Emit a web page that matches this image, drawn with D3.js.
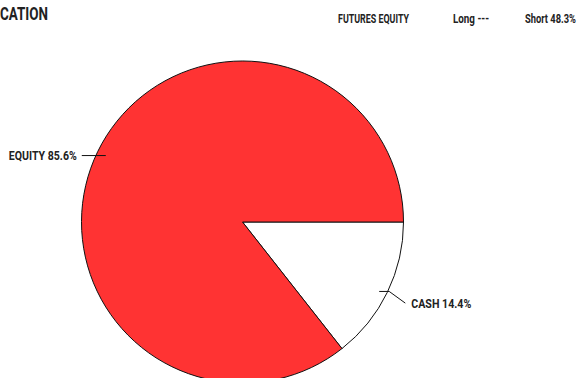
<!DOCTYPE html>
<html>
<head>
<meta charset="utf-8">
<script src="https://cdn.jsdelivr.net/npm/d3@7"></script>
<style>
  body { margin: 0; background: #fff; }
  text { font-family: "Roboto", "DejaVu Sans Condensed", sans-serif; font-weight: bold; fill: #222; }
</style>
</head>
<body>
<script>
const width = 581;
const height = 378;

// data
const categories = ["CASH", "EQUITY"];
const values = [14.4, 85.6];
const futuresLabels = ["FUTURES EQUITY", "Long ---", "Short 48.3%"];

const cx = 242.5, cy = 222, radius = 161;

let svg = d3.select("body")
    .append("svg")
    .attr("width", width)
    .attr("height", height);

// condensed look: squeeze text to measured widths
function squeeze(sel, w) {
    sel.attr("textLength", w).attr("lengthAdjust", "spacingAndGlyphs");
}

// title (clipped at left edge)
svg.append("text")
    .attr("x", 0)
    .attr("y", 20)
    .style("font-size", "18px")
    .text("CATION")
    .call(squeeze, 48);

// futures line at top right
const futX = [338, 453, 525];
const futW = [71, 36, 51];
futuresLabels.forEach((t, i) => {
    svg.append("text")
        .attr("x", futX[i])
        .attr("y", 23)
        .style("font-size", "12px")
        .text(t)
        .call(squeeze, futW[i]);
});

let pie = d3.pie()
    .sort(null)
    .value((d) => d)
    .startAngle(Math.PI / 2)
    .endAngle(Math.PI / 2 + 2 * Math.PI);

let arcs = pie(values);

let arc = d3.arc().innerRadius(0).outerRadius(radius);

let g = svg.append("g")
    .attr("transform", `translate(${cx},${cy})`);

g.selectAll(".slice")
    .data(arcs)
    .enter()
    .append("path")
    .attr("class", "slice")
    .attr("d", arc)
    .attr("fill", (d, i) => i === 0 ? "#ffffff" : "#ff3333")
    .attr("stroke", "#111")
    .attr("stroke-width", 1);

// labels with leader lines, placed at mid angle of each slice
function pt(a, r) { return [r * Math.sin(a), -r * Math.cos(a)]; }
const labelW = [60, 68];

arcs.forEach((d, i) => {
    const mid = (d.startAngle + d.endAngle) / 2;
    const p0 = pt(mid, 152);
    const right = Math.sin(mid) > 0;
    let pts;
    if (right) {
        const p2 = pt(mid, 181);
        pts = [[p0[0], p0[1] + 3], [p0[0] + 10, p0[1] + 3], [p2[0], p2[1] + 2]];
    } else {
        pts = [p0, [p0[0] - 24, p0[1]]];
    }
    g.append("path")
        .attr("d", d3.line()(pts))
        .attr("fill", "none")
        .attr("stroke", "#111")
        .attr("stroke-width", 1);
    const end = pts[pts.length - 1];
    const w = labelW[i];
    g.append("text")
        .attr("x", right ? end[0] + 6 : end[0] - 5 - w)
        .attr("y", end[1])
        .attr("dy", "0.38em")
        .style("font-size", "12.5px")
        .text(categories[i] + " " + values[i] + "%")
        .call(squeeze, w);
});
</script>
</body>
</html>
